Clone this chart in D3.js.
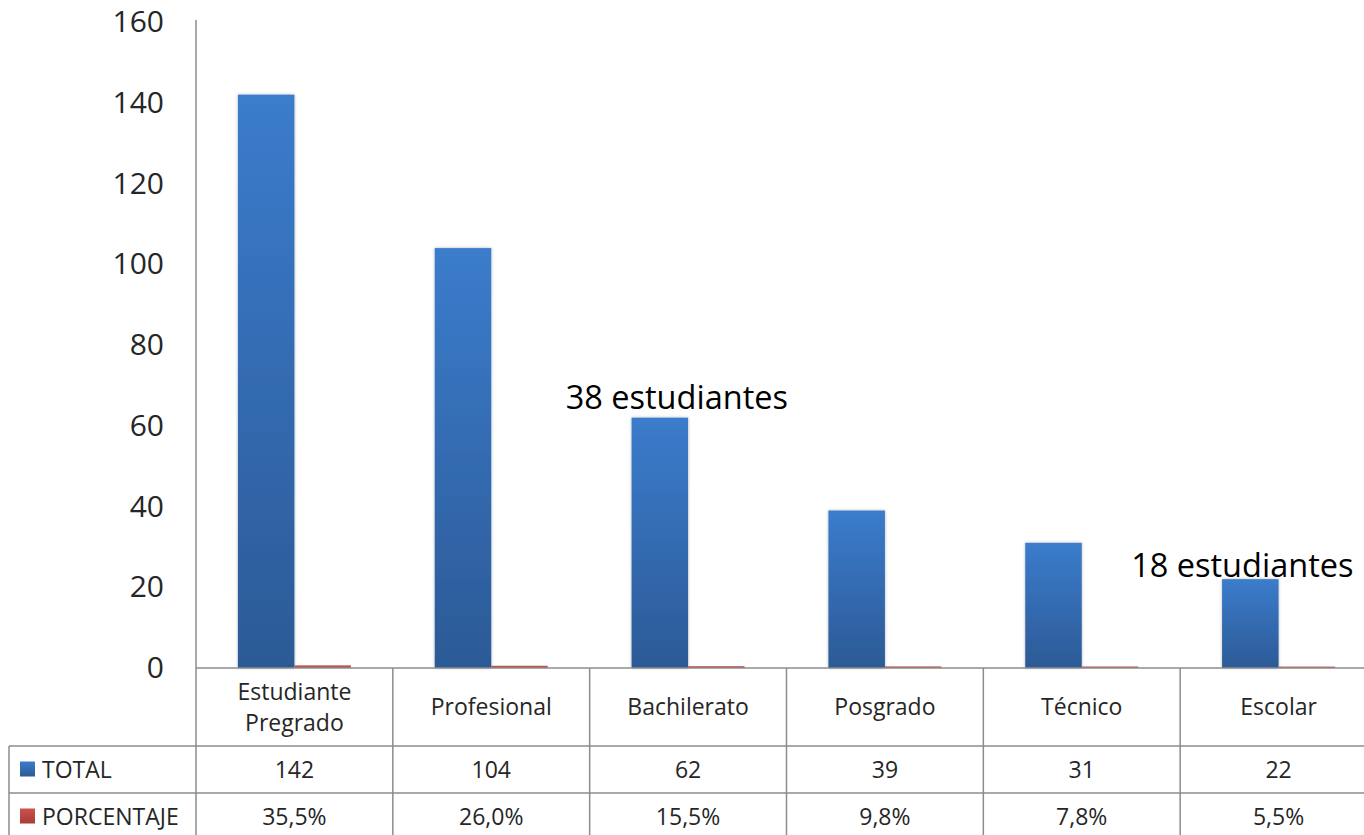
<!DOCTYPE html>
<html>
<head>
<meta charset="utf-8">
<script src="https://cdn.jsdelivr.net/npm/d3@7/dist/d3.min.js"></script>
<style>
  html, body { margin: 0; padding: 0; background: #ffffff; }
  svg { display: block; }
  text { font-family: "Open Sans", "Noto Sans", sans-serif; }
</style>
</head>
<body>
<svg id="chart" width="1364" height="835"></svg>
<script>
// Categories and series
const categories = ["Estudiante Pregrado", "Profesional", "Bachilerato", "Posgrado", "Técnico", "Escolar"];
const categoryLines = [["Estudiante", "Pregrado"], ["Profesional"], ["Bachilerato"], ["Posgrado"], ["Técnico"], ["Escolar"]];
const seriesNames = ["TOTAL", "PORCENTAJE"];
const totalValues = [142, 104, 62, 39, 31, 22];
const percentValues = [35.5, 26.0, 15.5, 9.8, 7.8, 5.5];
const percentLabels = ["35,5%", "26,0%", "15,5%", "9,8%", "7,8%", "5,5%"];
const yTicks = [0, 20, 40, 60, 80, 100, 120, 140, 160];

// Free text notes placed over two of the bars
const notes = [
  { category: "Bachilerato", text: "38 estudiantes" },
  { category: "Escolar", text: "18 estudiantes" }
];
const noteOffsets = { "Bachilerato": [17, -9], "Escolar": [-8, -2] };

const svg = d3.select("#chart");

const x = d3.scaleBand().domain(categories).range([196, 1377]).paddingInner(0).paddingOuter(0);
const xs = d3.scaleBand().domain(seriesNames).range([0, x.bandwidth()]).paddingInner(0).paddingOuter(0.742);
const y = d3.scaleLinear().domain([0, 160]).range([668, 22]);

// Defs: gradients for the bars and a soft shadow
const defs = svg.append("defs");
const grad = defs.append("linearGradient").attr("id", "blueGrad")
  .attr("x1", 0).attr("y1", 0).attr("x2", 0).attr("y2", 1);
grad.append("stop").attr("offset", "0%").attr("stop-color", "#3b7ccc");
grad.append("stop").attr("offset", "100%").attr("stop-color", "#2c5a96");
const redGrad = defs.append("linearGradient").attr("id", "redGrad")
  .attr("x1", 0).attr("y1", 0).attr("x2", 0).attr("y2", 1);
redGrad.append("stop").attr("offset", "0%").attr("stop-color", "#d0504d");
redGrad.append("stop").attr("offset", "100%").attr("stop-color", "#a83c39");
const shadow = defs.append("filter").attr("id", "barShadow")
  .attr("x", "-20%").attr("y", "-5%").attr("width", "140%").attr("height", "110%");
shadow.append("feDropShadow").attr("dx", 0).attr("dy", 0).attr("stdDeviation", 1.6)
  .attr("flood-color", "#000").attr("flood-opacity", 0.3);

// Y axis
const yAxis = d3.axisLeft(y).tickValues(yTicks).tickSize(0).tickPadding(32).tickFormat(d3.format("d"));
const gy = svg.append("g").attr("transform", "translate(196,0)").call(yAxis);
gy.select(".domain").remove();
gy.selectAll("text").attr("font-size", 30).attr("fill", "#262626")
  .attr("font-family", "'Open Sans', sans-serif");
svg.append("line").attr("x1", 196).attr("x2", 196).attr("y1", 20).attr("y2", 668)
  .attr("stroke", "#8c8c8c").attr("stroke-width", 1.5);

// Bars
const groups = svg.append("g").selectAll("g").data(categories).join("g")
  .attr("transform", d => `translate(${x(d)},0)`);

groups.append("rect")
  .attr("x", xs("TOTAL"))
  .attr("width", xs.bandwidth())
  .attr("y", (d, i) => y(totalValues[i]))
  .attr("height", (d, i) => y(0) - y(totalValues[i]))
  .attr("fill", "url(#blueGrad)")
  .attr("filter", "url(#barShadow)");

// Percentages plotted as fractions on the same axis (a thin sliver above zero)
groups.append("rect")
  .attr("x", xs("PORCENTAJE"))
  .attr("width", xs.bandwidth())
  .attr("y", (d, i) => y(percentValues[i] / 100) - 1.2)
  .attr("height", (d, i) => y(0) - y(percentValues[i] / 100) + 1.2)
  .attr("fill", "#c0504d");

// Notes
svg.append("g").selectAll("text").data(notes).join("text")
  .attr("x", d => x(d.category) + xs("TOTAL") + xs.bandwidth() / 2 + noteOffsets[d.category][0])
  .attr("y", d => y(totalValues[categories.indexOf(d.category)]) + noteOffsets[d.category][1])
  .attr("text-anchor", "middle")
  .attr("font-size", 32.5)
  .attr("fill", "#000")
  .text(d => d.text);

// Data table below the plot
const rowTop = [668, 746, 793];
const rowBottom = [746, 793, 840];
const tableLeft = 9;
const lineColor = "#8c8c8c";
const table = svg.append("g");

// horizontal rules
table.append("line").attr("x1", 196).attr("x2", 1377).attr("y1", 668).attr("y2", 668)
  .attr("stroke", lineColor).attr("stroke-width", 1.5);
[746, 793, 840].forEach(yy => {
  table.append("line").attr("x1", tableLeft).attr("x2", 1377).attr("y1", yy).attr("y2", yy)
    .attr("stroke", lineColor).attr("stroke-width", 1.5);
});
// vertical rules
table.append("line").attr("x1", tableLeft).attr("x2", tableLeft).attr("y1", 746).attr("y2", 840)
  .attr("stroke", lineColor).attr("stroke-width", 1.5);
categories.forEach(c => {
  table.append("line").attr("x1", x(c)).attr("x2", x(c)).attr("y1", 668).attr("y2", 840)
    .attr("stroke", lineColor).attr("stroke-width", 1.5);
});

const txtColor = "#262626";
const fs = 23;

// category names
categories.forEach((c, i) => {
  const lines = categoryLines[i];
  const cy = (rowTop[0] + rowBottom[0]) / 2;
  const lh = 31;
  lines.forEach((ln, j) => {
    table.append("text")
      .attr("x", x(c) + x.bandwidth() / 2)
      .attr("y", cy + (j - (lines.length - 1) / 2) * lh)
      .attr("dy", "0.36em")
      .attr("text-anchor", "middle")
      .attr("font-size", fs)
      .attr("fill", txtColor)
      .text(ln);
  });
});

// series rows
const rowsData = [
  { name: "TOTAL", color: "url(#blueGrad)", labels: totalValues.map(v => String(v)) },
  { name: "PORCENTAJE", color: "url(#redGrad)", labels: percentLabels }
];
rowsData.forEach((r, k) => {
  const cy = (rowTop[k + 1] + rowBottom[k + 1]) / 2;
  table.append("rect").attr("x", 20).attr("y", cy - 8).attr("width", 15).attr("height", 15)
    .attr("fill", r.color);
  table.append("text").attr("x", 42).attr("y", cy).attr("dy", "0.36em")
    .attr("font-size", fs).attr("fill", txtColor).text(r.name);
  categories.forEach((c, i) => {
    table.append("text")
      .attr("x", x(c) + x.bandwidth() / 2)
      .attr("y", cy)
      .attr("dy", "0.36em")
      .attr("text-anchor", "middle")
      .attr("font-size", fs)
      .attr("fill", txtColor)
      .text(r.labels[i]);
  });
});
</script>
</body>
</html>
